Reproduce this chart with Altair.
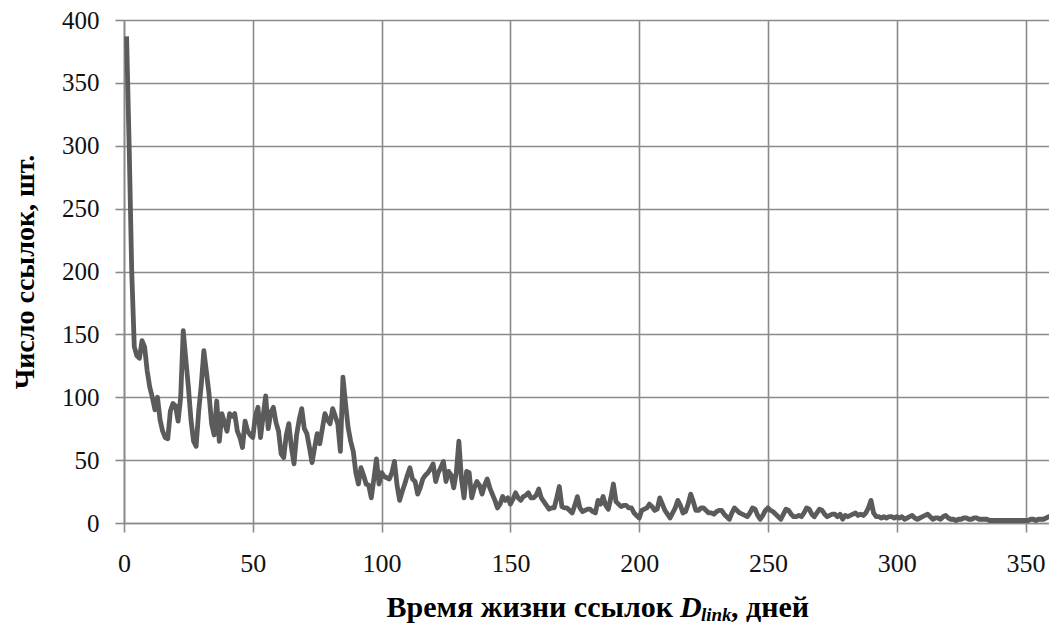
import altair as alt
import pandas as pd

# Число ссылок по дням (день 1 .. 362)
counts = [
    387, 300, 200, 140, 133, 131, 145, 140, 121, 108,
    100, 90, 100, 82, 73, 68, 67, 89, 95, 93,
    81, 100, 153, 130, 108, 82, 65, 61, 89, 110,
    137, 120, 103, 79, 70, 97, 65, 87, 80, 73,
    87, 85, 87, 73, 68, 60, 81, 73, 70, 68,
    85, 92, 68, 85, 101, 75, 88, 92, 80, 73,
    55, 52, 70, 79, 60, 47, 70, 82, 91, 75,
    71, 60, 48, 60, 71, 63, 75, 87, 82, 79,
    91, 85, 79, 57, 116, 95, 76, 65, 57, 40,
    31, 44, 38, 31, 30, 20, 35, 51, 31, 40,
    37, 36, 35, 40, 49, 30, 18, 25, 31, 38,
    44, 35, 33, 23, 28, 35, 38, 40, 43, 47,
    33, 40, 44, 49, 33, 41, 38, 28, 40, 65,
    35, 20, 41, 40, 20, 28, 33, 30, 23, 30,
    35, 28, 23, 18, 12, 15, 21, 18, 20, 15,
    19, 24, 20, 18, 21, 22, 24, 20, 20, 22,
    27, 20, 17, 14, 11, 12, 12, 20, 29, 13,
    12, 12, 10, 8, 14, 21, 12, 9, 10, 11,
    11, 9, 8, 18, 15, 21, 14, 11, 20, 31,
    17, 15, 13, 14, 14, 12, 12, 8, 6, 4,
    10, 11, 12, 15, 13, 10, 11, 20, 15, 10,
    7, 4, 8, 12, 18, 14, 8, 9, 15, 23,
    17, 10, 10, 12, 12, 10, 8, 8, 7, 9,
    10, 10, 7, 5, 3, 8, 12, 10, 8, 7,
    6, 5, 8, 12, 11, 6, 3, 6, 10, 12,
    10, 9, 7, 5, 3, 7, 11, 10, 7, 5,
    5, 6, 5, 8, 12, 11, 7, 5, 8, 11,
    10, 7, 5, 6, 7, 7, 5, 7, 3, 6,
    5, 6, 7, 8, 6, 7, 6, 8, 12, 18,
    8, 5, 5, 4, 5, 4, 5, 5, 4, 5,
    4, 5, 3, 4, 5, 6, 4, 3, 4, 5,
    6, 7, 5, 3, 4, 4, 3, 5, 6, 4,
    3, 3, 2, 3, 3, 4, 4, 3, 3, 4,
    4, 3, 3, 3, 3, 2, 2, 2, 2, 2,
    2, 2, 2, 2, 2, 2, 2, 2, 2, 2,
    2, 3, 3, 2, 3, 3, 3, 4, 5, 6,
    5, 4,
]
days = list(range(1, len(counts) + 1))

x_ticks = [0, 50, 100, 150, 200, 250, 300, 350]
y_ticks = [0, 50, 100, 150, 200, 250, 300, 350, 400]

title_part1 = ["Время жизни ссылок"]
title_var = ["D"]
title_sub = ["link"]
title_part2 = [", дней"]
y_title = "Число ссылок, шт."

df = pd.DataFrame({"day": days, "count": counts})

W = 925
H = 503
X_MAX = 359.1

GRID = "#8a8a8a"
LINE = "#5b5b5b"
SERIF = "Liberation Serif, Times New Roman, DejaVu Serif, serif"

line = alt.Chart(df).mark_line(
    color=LINE, strokeWidth=4.8, clip=True, strokeJoin="round"
).encode(
    x=alt.X(
        "day:Q",
        scale=alt.Scale(domain=[0, X_MAX], nice=False, zero=True),
        axis=alt.Axis(
            values=x_ticks, title=None, grid=True, gridColor=GRID, gridWidth=1.6,
            domainColor=GRID, domainWidth=1.6, tickColor=GRID, tickWidth=1.6,
            tickSize=9, labelFont=SERIF, labelFontSize=26, labelColor="#111",
            labelPadding=18, labelFlush=False,
        ),
    ),
    y=alt.Y(
        "count:Q",
        scale=alt.Scale(domain=[0, 400], nice=False),
        axis=alt.Axis(
            values=y_ticks, title=y_title, grid=True, gridColor=GRID, gridWidth=1.6,
            domainColor=GRID, domainWidth=1.6, tickColor=GRID, tickWidth=1.6,
            tickSize=9, labelFont=SERIF, labelFontSize=25, labelColor="#111",
            labelPadding=16, labelFlush=False,
            titleFont=SERIF, titleFontSize=28, titleFontWeight="bold",
            titleColor="#000", titleAngle=270, titleBaseline="middle",
            titleAlign="center", titleX=-99, titleY=H / 2,
        ),
    ),
)

TY = 597  # baseline of x title in plot coordinates
XD = 556  # left edge of the variable letter

t1 = alt.Chart(pd.DataFrame({"t": title_part1})).mark_text(
    font=SERIF, fontSize=30, fontWeight="bold", align="right", baseline="alphabetic",
    color="#000",
).encode(text="t:N", x=alt.value(XD - 7), y=alt.value(TY))

t2 = alt.Chart(pd.DataFrame({"t": title_var})).mark_text(
    font=SERIF, fontSize=30, fontWeight="bold", fontStyle="italic", align="left",
    baseline="alphabetic", color="#000",
).encode(text="t:N", x=alt.value(XD), y=alt.value(TY))

t3 = alt.Chart(pd.DataFrame({"t": title_sub})).mark_text(
    font=SERIF, fontSize=19, fontWeight="bold", fontStyle="italic", align="left",
    baseline="alphabetic", color="#000",
).encode(text="t:N", x=alt.value(XD + 21), y=alt.value(TY + 4))

t4 = alt.Chart(pd.DataFrame({"t": title_part2})).mark_text(
    font=SERIF, fontSize=30, fontWeight="bold", align="left", baseline="alphabetic",
    color="#000",
).encode(text="t:N", x=alt.value(XD + 51), y=alt.value(TY))

chart = alt.layer(line, t1, t2, t3, t4).properties(
    width=W,
    height=H,
    autosize=alt.AutoSizeParams(type="none"),
    padding={"left": 116, "top": 12, "right": 0, "bottom": 103},
    background="white",
).configure_view(stroke=None)

chart.save("out.html", embed_options={"renderer": "svg", "actions": False})
